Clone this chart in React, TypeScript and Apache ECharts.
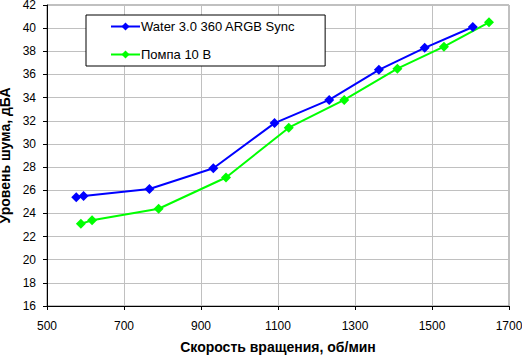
import React, { useEffect, useRef } from "react";
import * as echarts from "echarts";

const seriesNames = ["Water 3.0 360 ARGB Sync", "Помпа 10 В"];
const waterRpm = [576, 595, 766, 932, 1091, 1233, 1362, 1481, 1606];
const waterDb = [25.4, 25.5, 26.1, 27.9, 31.8, 33.8, 36.4, 38.3, 40.1];
const pumpRpm = [588, 617, 790, 965, 1128, 1272, 1410, 1531, 1648];
const pumpDb = [23.1, 23.4, 24.4, 27.1, 31.4, 33.8, 36.5, 38.4, 40.5];
const colors = ["#0000ff", "#00ff00"];
const xTitle = "Скорость вращения, об/мин";
const yTitle = "Уровень шума, дБА";

const FONT = "'Liberation Sans', Arial, sans-serif";

export default function App() {
  const ref = useRef<HTMLDivElement>(null);
  useEffect(() => {
    if (!ref.current) return;
    const chart = echarts.init(ref.current, undefined, { renderer: "svg" });
    const pair = (xs: number[], ys: number[]) => xs.map((x, i) => [x, ys[i]]);
    chart.setOption({
      animation: false,
      backgroundColor: "#ffffff",
      textStyle: { fontFamily: FONT },
      grid: {
        left: 47,
        right: 13,
        top: 5,
        bottom: 50,
        containLabel: false,
        outerBoundsMode: "none",
        show: true,
        borderColor: "#808080",
        borderWidth: 1,
        backgroundColor: "transparent",
      },
      legend: {
        left: 86,
        top: 15,
        orient: "vertical",
        backgroundColor: "#ffffff",
        borderColor: "#000000",
        borderWidth: 1,
        borderRadius: 0,
        padding: [5, 30, 5, 24],
        itemWidth: 29,
        itemHeight: 10,
        itemGap: 15,
        textStyle: { fontFamily: FONT, fontSize: 13, color: "#000", padding: [0, 0, 0, -4] },
        data: seriesNames,
      },
      xAxis: {
        type: "value",
        min: 500,
        max: 1700,
        interval: 200,
        name: xTitle,
        nameLocation: "middle",
        nameGap: 34,
        nameTextStyle: { fontFamily: FONT, fontSize: 14, fontWeight: "bold", color: "#000" },
        axisLine: { show: true, onZero: false, lineStyle: { color: "#000", width: 1 } },
        axisTick: { show: true, length: 4, lineStyle: { color: "#000" } },
        axisLabel: { fontFamily: FONT, fontSize: 12, color: "#000", margin: 14, formatter: (v: number) => String(v) },
        splitLine: { show: true, lineStyle: { color: "#c0c0c0", width: 1 } },
      },
      yAxis: {
        type: "value",
        min: 16,
        max: 42,
        interval: 2,
        name: yTitle,
        nameLocation: "middle",
        nameGap: 35,
        nameRotate: 90,
        nameTextStyle: { fontFamily: FONT, fontSize: 14, fontWeight: "bold", color: "#000" },
        axisLine: { show: true, onZero: false, lineStyle: { color: "#000", width: 1 } },
        axisTick: { show: true, length: 4, lineStyle: { color: "#000" } },
        axisLabel: { fontFamily: FONT, fontSize: 12, color: "#000", margin: 11, formatter: (v: number) => String(v) },
        splitLine: { show: true, lineStyle: { color: "#c0c0c0", width: 1 } },
      },
      series: [
        {
          name: seriesNames[0],
          type: "line",
          data: pair(waterRpm, waterDb),
          color: colors[0],
          symbol: "diamond",
          symbolSize: 10,
          lineStyle: { width: 2, color: colors[0] },
          itemStyle: { color: colors[0] },
        },
        {
          name: seriesNames[1],
          type: "line",
          data: pair(pumpRpm, pumpDb),
          color: colors[1],
          symbol: "diamond",
          symbolSize: 10,
          lineStyle: { width: 2, color: colors[1] },
          itemStyle: { color: colors[1] },
        },
      ],
    });
    return () => chart.dispose();
  }, []);
  return <div ref={ref} style={{ width: 522, height: 356, position: "absolute", left: 0, top: 0 }} />;
}
